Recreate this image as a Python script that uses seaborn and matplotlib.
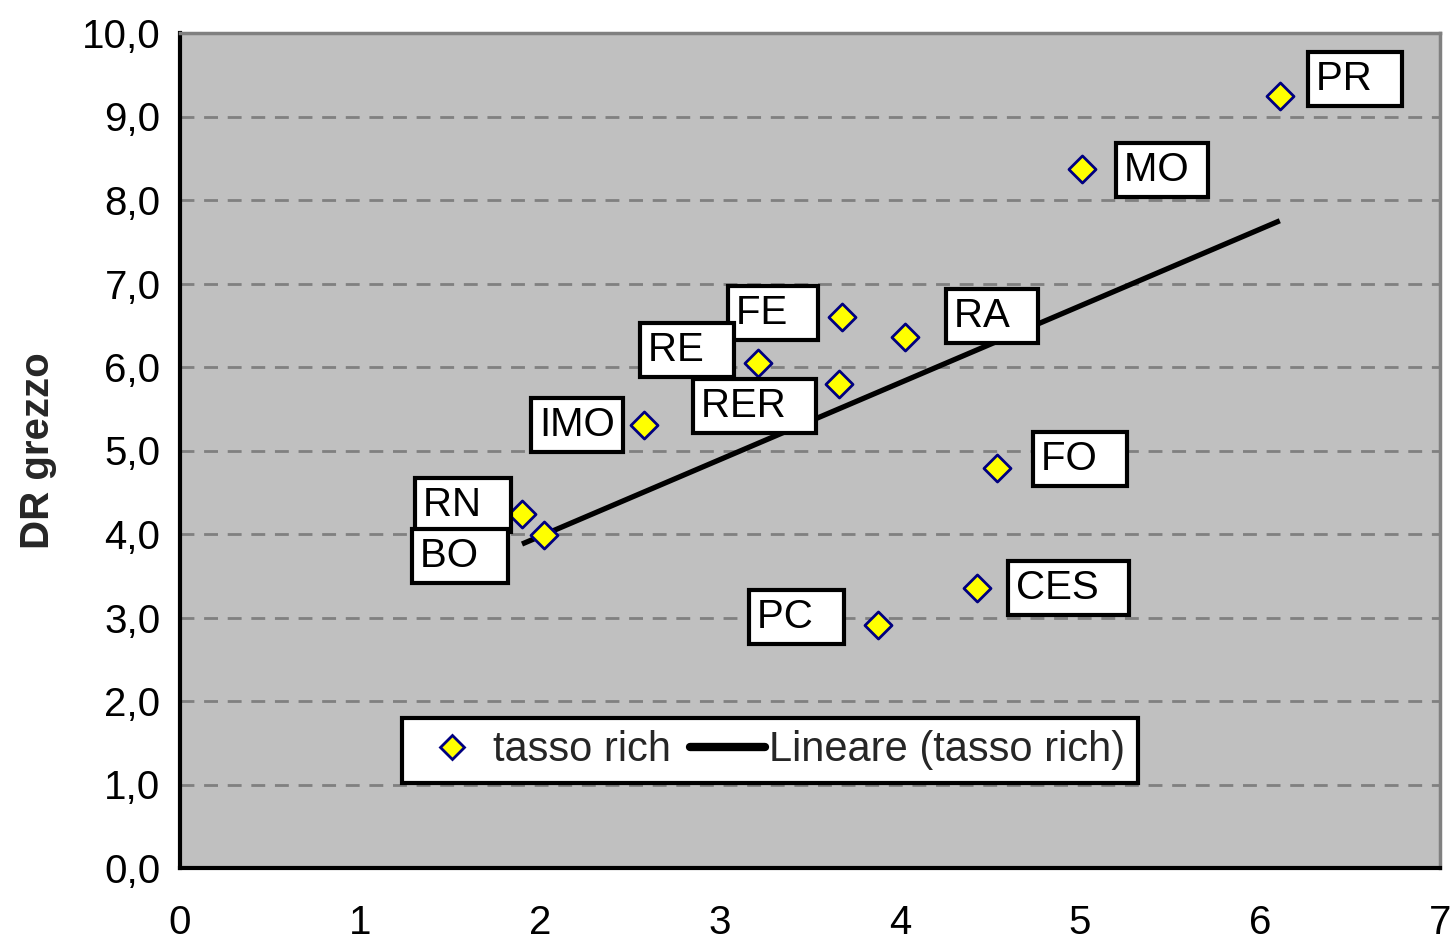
import matplotlib
matplotlib.use("Agg")
import matplotlib.pyplot as plt
import seaborn as sns
import pandas as pd
import numpy as np
from matplotlib.lines import Line2D
from matplotlib.ticker import FuncFormatter

# ---- data ----
labels = ["PR", "MO", "FE", "RA", "RE", "RER", "IMO", "FO", "RN", "BO", "CES", "PC"]
tasso_x = [6.11, 5.01, 3.68, 4.03, 3.21, 3.66, 2.58, 4.54, 1.90, 2.02, 4.43, 3.88]
dr_grezzo = [9.25, 8.37, 6.60, 6.36, 6.05, 5.80, 5.31, 4.79, 4.24, 3.99, 3.35, 2.91]
y_ticks = [0, 1, 2, 3, 4, 5, 6, 7, 8, 9, 10]
x_ticks = [0, 1, 2, 3, 4, 5, 6, 7]

df = pd.DataFrame({"x": tasso_x, "y": dr_grezzo, "label": labels})

# label offsets (pixels) from point to text left/center, and trailing box padding (spaces)
label_offsets = {
    "PR": (36, 17), "MO": (42, -1), "FE": (-106, 4), "RA": (49, 21),
    "RE": (-110, 13), "RER": (-138, -22), "IMO": (-105, 0), "FO": (44, 9),
    "RN": (-99, 9), "BO": (-124, -21), "CES": (39, 0), "PC": (-121, 8),
}
label_trail = {"PR": 2, "MO": 1, "FE": 2, "RA": 2, "RE": 2, "RER": 2, "IMO": 0,
               "FO": 2, "RN": 2, "BO": 2, "CES": 2, "PC": 2}

sns.set_theme(style="white")
plt.rcParams["font.family"] = ["Liberation Sans", "DejaVu Sans"]

fig = plt.figure(figsize=(14.52, 9.41), dpi=100)
ax = fig.add_axes([180/1452, 1-868/941, 1260/1452, 835/941])
ax.set_facecolor("#C0C0C0")

FS = 29

sns.regplot(data=df, x="x", y="y", scatter=False, ci=None, ax=ax,
            line_kws=dict(color="black", lw=3.8, solid_capstyle="butt"))
sns.scatterplot(data=df, x="x", y="y", ax=ax, marker="D", s=190,
                color="#FFFF00", edgecolor="#000080", linewidth=2, zorder=5,
                legend=False)

for lab, xv, yv in zip(labels, tasso_x, dr_grezzo):
    dx, dy = label_offsets[lab]
    ax.annotate(lab + " " * label_trail[lab], (xv, yv), xytext=(dx, dy),
                textcoords="offset pixels", ha="left", va="center",
                fontsize=FS, color="black", zorder=6,
                bbox=dict(boxstyle="square,pad=0.2", fc="white", ec="black", lw=3))

ax.set_xlim(0, 7)
ax.set_ylim(0, 10)
ax.set_xticks(x_ticks)
ax.set_yticks(y_ticks)
ax.yaxis.set_major_formatter(FuncFormatter(lambda v, p: f"{v:.1f}".replace(".", ",")))
ax.tick_params(axis="both", labelsize=FS, colors="black", direction="out", width=3)
ax.tick_params(axis="y", length=8, pad=6)
ax.tick_params(axis="x", length=11, pad=15)
ax.set_xlabel("")
ax.set_ylabel("DR grezzo", fontsize=FS, fontweight="bold", labelpad=18)

ax.yaxis.grid(True, color="#808080", linestyle=(0, (5, 3.5)), lw=2)
ax.xaxis.grid(False)
ax.set_axisbelow(True)

for s in ["left", "bottom"]:
    ax.spines[s].set_color("black")
    ax.spines[s].set_linewidth(3)
for s in ["top", "right"]:
    ax.spines[s].set_color("#808080")
    ax.spines[s].set_linewidth(2.5)
    ax.spines[s].set_visible(True)

handles = [
    Line2D([], [], marker="D", linestyle="none", markersize=12,
           markerfacecolor="#FFFF00", markeredgecolor="#000080", markeredgewidth=2),
    Line2D([], [], color="black", lw=6),
]
leg = ax.legend(handles, ["tasso rich", "Lineare (tasso rich)"], ncol=2,
                loc="center", bbox_to_anchor=(0.468, 0.141), fontsize=30,
                frameon=True, fancybox=False, framealpha=1, edgecolor="black",
                handlelength=1.8, handletextpad=0.1, columnspacing=0.45,
                borderpad=0.3, borderaxespad=0)
leg.get_frame().set_linewidth(3)

fig.savefig("out.png", dpi=100, facecolor="white")
